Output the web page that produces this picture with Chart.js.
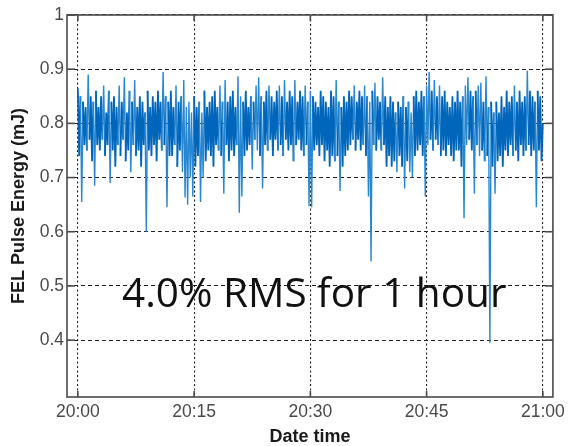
<!DOCTYPE html>
<html>
<head>
<meta charset="utf-8">
<script src="https://cdn.jsdelivr.net/npm/chart.js@4/dist/chart.umd.min.js"></script>
<style>
	html, body { margin: 0; padding: 0; background: #fff; }
	#wrap { width: 570px; height: 446px; }
</style>
</head>
<body>
<div id="wrap"><canvas id="chart" width="570" height="446"></canvas></div>
<script>
// one reading every 10 s, 20:00 -> 21:00 (mJ)
const energy = [
	.865, .74, .85, .655, .84, .76, .83, .75, .89, .77, .85, .73,
	.84, .685, .86, .76, .83, .75, .85, .77, .87, .74, .82, .76,
	.86, .69, .84, .75, .85, .72, .83, .76, .87, .74, .84, .77,
	.885, .73, .82, .75, .86, .71, .84, .76, .88, .74, .83, .75,
	.85, .72, .84, .76, .82, .60, .86, .75, .83, .74, .85, .76,
	.84, .73, .86, .77, .84, .75, .895, .76, .85, .645, .84, .74,
	.86, .74, .83, .76, .87, .72, .84, .75, .85, .71, .88, .663,
	.83, .65, .84, .70, .82, .665, .85, .72, .83, .74, .84, .655,
	.82, .70, .86, .73, .83, .75, .84, .74, .85, .72, .86, .76,
	.83, .75, .87, .74, .84, .67, .88, .76, .84, .73, .85, .75,
	.86, .74, .83, .76, .887, .635, .85, .665, .84, .74, .86, .75,
	.83, .76, .85, .715, .84, .77, .87, .75, .885, .74, .85, .68,
	.84, .76, .86, .75, .87, .77, .85, .74, .84, .77, .86, .75,
	.87, .76, .85, .74, .88, .77, .84, .75, .86, .76, .85, .73,
	.88, .76, .84, .77, .86, .75, .85, .74, .87, .76, .84, .647,
	.86, .645, .85, .75, .84, .76, .83, .74, .86, .76, .85, .73,
	.84, .75, .83, .72, .86, .74, .85, .73, .88, .74, .84, .675,
	.83, .72, .85, .74, .84, .75, .86, .76, .85, .77, .87, .75,
	.84, .77, .86, .75, .85, .76, .87, .74, .85, .665, .84, .545,
	.86, .76, .875, .75, .85, .77, .84, .75, .885, .76, .85, .72,
	.83, .74, .85, .72, .84, .73, .82, .71, .84, .74, .83, .72,
	.85, .68, .83, .73, .84, .71, .82, .70, .85, .74, .86, .75,
	.84, .76, .86, .74, .85, .665, .87, .76, .895, .77, .86, .75,
	.88, .77, .85, .76, .87, .74, .85, .75, .86, .74, .84, .76,
	.83, .74, .85, .73, .84, .75, .86, .75, .84, .72, .85, .625,
	.87, .76, .885, .77, .86, .75, .85, .67, .86, .76, .87, .74,
	.875, .75, .84, .73, .887, .74, .83, .395, .84, .72, .82, .67,
	.84, .73, .82, .74, .85, .72, .83, .75, .86, .74, .84, .76,
	.85, .74, .87, .75, .84, .73, .86, .76, .84, .74, .85, .75,
	.897, .76, .86, .74, .85, .75, .84, .645, .86, .75, .85, .73,
	.80
];
const sampleStepMin = 1 / 6;

const timeTicks = [0, 15, 30, 45, 60];
const timeLabels = ["20:00", "20:15", "20:30", "20:45", "21:00"];
const energyTicks = [0.4, 0.5, 0.6, 0.7, 0.8, 0.9, 1];
const energyLabels = ["0.4", "0.5", "0.6", "0.7", "0.8", "0.9", "1"];
const note = "4.0% RMS for 1 hour";

const tickFont = { family: "'Liberation Sans', Arial, sans-serif", size: 17.5 };
const titleFont = { family: "'Liberation Sans', Arial, sans-serif", size: 18, weight: "bold" };

// thin outliers look lighter than the dense core in the original
const coreBlue = "rgb(0, 102, 187)";
const spikeBlue = "rgb(40, 135, 210)";
const isSpike = ctx => {
	const a = ctx.p0.parsed.y;
	const b = ctx.p1.parsed.y;
	return Math.max(a, b) > 0.865 || Math.min(a, b) < 0.72;
};

// box round the plot with inward ticks, and the big note
const framePlugin = {
	id: "frame",
	afterDraw(chart) {
		const { ctx, chartArea, scales } = chart;
		const { left, top, right, bottom } = chartArea;
		const line = (x1, y1, x2, y2) => {
			ctx.beginPath();
			ctx.moveTo(x1, y1);
			ctx.lineTo(x2, y2);
			ctx.stroke();
		};
		ctx.save();
		ctx.font = "40.5px 'Open Sans', 'Noto Sans', sans-serif";
		ctx.fillStyle = "#111";
		ctx.textAlign = "center";
		ctx.textBaseline = "alphabetic";
		ctx.fillText(note, scales.x.getPixelForValue(30.5), scales.y.getPixelForValue(0.462));

		ctx.strokeStyle = "#4a4a4a";
		ctx.lineWidth = 1.6;
		ctx.strokeRect(left, top, right - left, bottom - top);
		for (const v of energyTicks) {
			const py = scales.y.getPixelForValue(v);
			line(left, py, left + 8, py);
			line(right, py, right - 8, py);
		}
		for (const v of timeTicks) {
			const px = scales.x.getPixelForValue(v);
			line(px, bottom, px, bottom - 6);
			line(px, top, px, top + 6);
		}
		ctx.restore();
	}
};

new Chart(document.getElementById("chart"), {
	type: "line",
	data: {
		datasets: [
			{
				data: energy.map((v, i) => ({ x: i * sampleStepMin, y: v })),
				borderColor: coreBlue,
				borderWidth: 1.8,
				segment: {
					borderColor: ctx => (isSpike(ctx) ? spikeBlue : coreBlue),
					borderWidth: ctx => (isSpike(ctx) ? 1.4 : 1.8)
				},
				pointRadius: 0,
				tension: 0,
				fill: false
			}
		]
	},
	options: {
		responsive: false,
		animation: false,
		layout: { padding: { top: 15, right: 13, left: 0, bottom: 0 } },
		plugins: {
			legend: { display: false },
			tooltip: { enabled: false }
		},
		scales: {
			x: {
				type: "linear",
				min: -1.4,
				max: 61.3,
				afterBuildTicks(scale) {
					scale.ticks = timeTicks.map(value => ({ value }));
				},
				afterFit(scale) {
					scale.height = 49;
				},
				ticks: {
					callback: v => timeLabels[timeTicks.indexOf(v)],
					color: "#4a4a4a",
					font: tickFont,
					padding: 5,
					maxRotation: 0,
					autoSkip: false
				},
				grid: { color: "#222", lineWidth: 1.1, drawTicks: false },
				border: { display: false, dash: [2, 2.5] },
				title: {
					display: true,
					text: "Date time",
					color: "#1a1a1a",
					font: titleFont,
					padding: { top: 0, bottom: -2 }
				}
			},
			y: {
				min: 0.295,
				max: 1,
				afterBuildTicks(scale) {
					scale.ticks = energyTicks.map(value => ({ value }));
				},
				afterFit(scale) {
					scale.width = 67;
				},
				ticks: {
					callback: v => energyLabels[energyTicks.indexOf(v)],
					color: "#4a4a4a",
					font: tickFont,
					padding: 3
				},
				grid: { color: "#222", lineWidth: 1.1, drawTicks: false },
				border: { display: false, dash: [4, 3] },
				title: {
					display: true,
					text: "FEL Pulse Energy (mJ)",
					color: "#1a1a1a",
					font: titleFont,
					padding: { top: 8, bottom: 0 }
				}
			}
		}
	},
	plugins: [framePlugin]
});
</script>
</body>
</html>
